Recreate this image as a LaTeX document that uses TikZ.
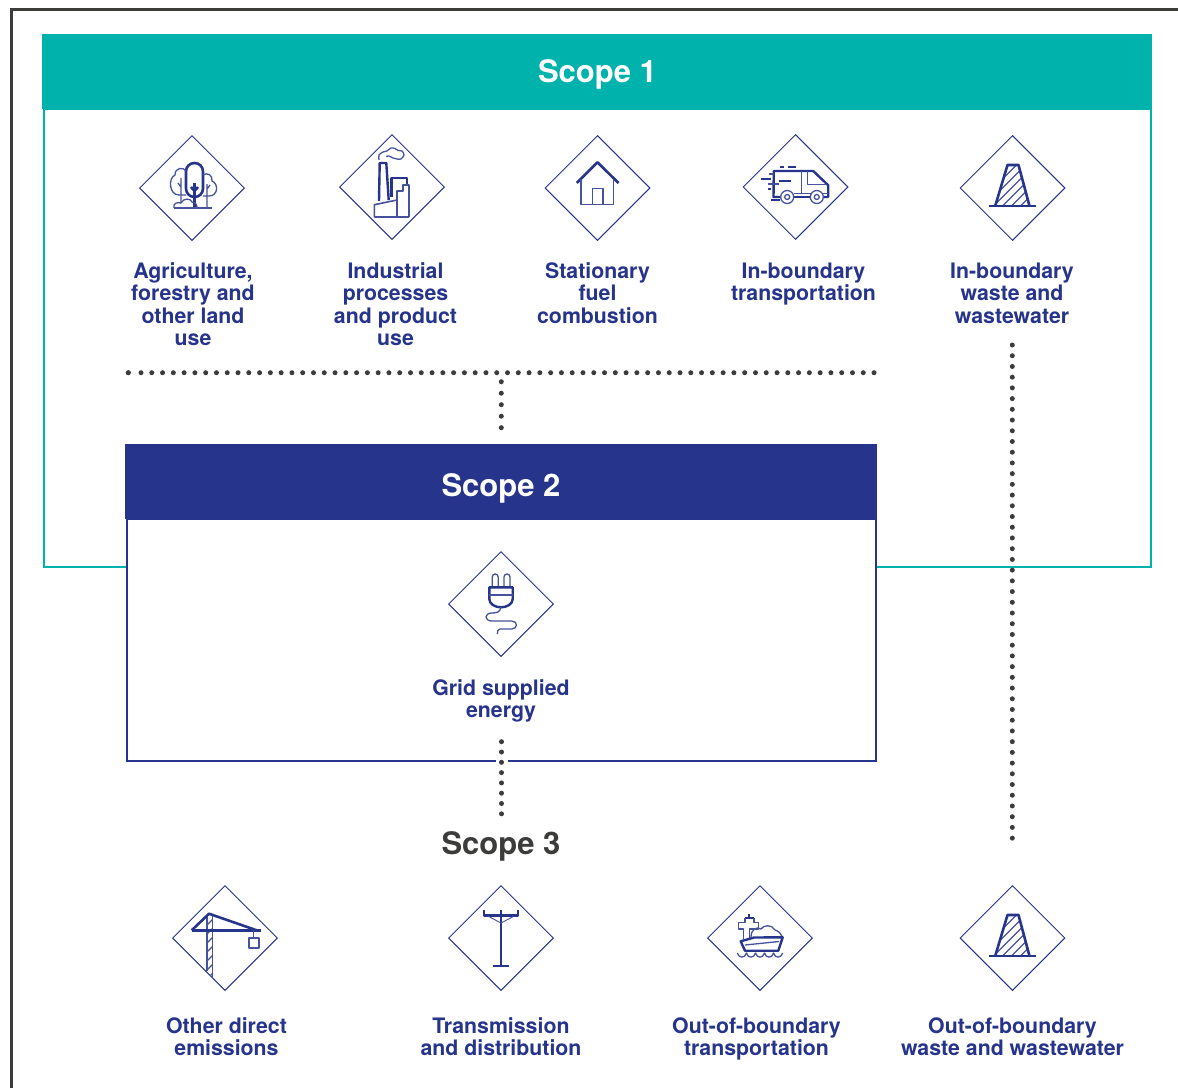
\documentclass[tikz,border=0pt]{standalone}
\usepackage{fontspec}
\setmainfont{TeX Gyre Heros}
\usetikzlibrary{shapes.geometric}
\definecolor{navy}{HTML}{27348B}
\definecolor{teal2}{HTML}{00B2AC}
\definecolor{ink}{HTML}{3C3C3B}
\tikzset{
  dia/.style={shape=diamond,draw=navy,line width=1pt,aspect=1,inner sep=0pt,minimum width=105pt,minimum height=105pt},
  lab/.style={font=\fontsize{21.3}{22.4}\selectfont\bfseries,text=navy,align=center,anchor=north,inner sep=0pt,execute at begin node=\strut},
  title/.style={font=\fontsize{31}{33}\selectfont\bfseries,inner sep=0pt,anchor=center},
  dots/.style={draw=ink,line width=5pt,line cap=round,dash pattern=on 0pt off 10.72pt},
  thk/.style={draw=navy,line width=2.4pt,line join=round},
  thn/.style={draw=navy!85,line width=1.3pt,line join=round},
  icontree/.pic={
    \draw[thk,line width=2.6pt,rounded corners=8.4pt] (-6,-25) rectangle (11,9);
    \draw[thk,line width=2.6pt] (2.5,-5)--(2.5,19) (2.5,3)--(-1,-1) (2.5,3)--(6,-1);
    \draw[thn] (-6,-17) .. controls (-8,-21) and (-17,-21) .. (-17,-13) .. controls (-24,-10) and (-23,7) .. (-13,7) -- (-6,7);
    \draw[thn] (-11,-10)--(-11,15) (-11,-1)--(-14,-5);
    \draw[thn] (11,-13) .. controls (15,-16) and (21,-13) .. (20,-7) .. controls (27,-4) and (26,8) .. (17,8) -- (11,8);
    \draw[thn] (15,-4)--(15,20) (15,1)--(18,-3);
    \draw[thn,line width=1.5pt] (-18,20)--(20,20);
    \draw[thn] (-18,20) .. controls (-19,15) and (-15,14) .. (-11,15) .. controls (-9,10) and (-1,10) .. (0,14) .. controls (3,14) and (5,16) .. (5,20);
  },
  iconfactory/.pic={
    \draw[thk] (-13,14)--(-12.3,-24)--(-5.7,-24)--(-3.3,13);
    \draw[thk] (-0.7,10)--(-0.7,-9)--(15,-9)--(15,-2);
    \draw[thn] (5,30)--(5,4)--(11,4)--(11,-2)--(17,-2)--(17,30);
    \draw[thn,line width=1.6pt] (-17.7,30)--(-17.7,17.7)--(5,13) (-17.7,30)--(17,30);
    \draw[thn] plot[smooth] coordinates {(-13,-27) (-13,-32) (-9,-35) (-5,-36) (-1,-39) (3,-38.5) (6,-36.5) (10,-36) (12,-32) (9,-28) (5,-28) (1,-29) (-3,-31) (-6,-30.5)};
  },
  iconhouse/.pic={
    \draw[thk,line width=2.6pt] (-20.7,-5)--(0,-25.7)--(21,-5);
    \draw[thn,line width=1.6pt] (-16.3,-9)--(-16.3,16.3)--(16,16.3)--(16,-9);
    \draw[thn,line width=1.6pt] (-5,16.3)--(-5,0.3)--(5.3,0.3)--(5.3,16.3);
  },
  iconvan/.pic={
    \draw[thk] (-8,10)--(-22,10)--(-21.7,-16)--(17.7,-16)--(32.7,-1.7)--(32.7,10)--(28,10);
    \draw[thk] (-2,10)--(15,10);
    \draw[thn] (-2,6.7)--(15,6.7) (27,6.7)--(32.7,6.7);
    \draw[thn,line width=1.6pt] (6,-16)--(6,6.7);
    \draw[thn] (11.7,-16)--(11.7,-2.7)--(31,-2.7);
    \draw[thn,fill=white] (-8.3,10) circle (6.5pt) (21.3,10) circle (6.5pt);
    \draw[thn] (-8.3,10) circle (2.5pt) (21.3,10) circle (2.5pt);
    \draw[thk] (-15.7,-20)--(-11.7,-20) (-7.3,-20)--(0,-20) (-34.7,-8)--(-25,-8) (-16.3,-6)--(-5,-6) (-28,2)--(-24.7,2) (-24.7,13)--(-15.7,13);
    \draw[thn] (-26.7,-13)--(-21.7,-13) (-28,-3)--(-16.7,-3);
  },
  iconcone/.pic={
    \begin{scope}
      \clip (-17.3,18)--(-5,-23)--(6,-23)--(17,18)--cycle;
      \foreach \k in {-26,-17,-8,1,10,19,28,37}{\draw[thn] (\k-20,18)--(\k+20,-22);}
    \end{scope}
    \draw[thk,line width=2.6pt] (-17.3,18)--(-5,-23)--(6,-23)--(17,18);
    \draw[thk] (-23.3,18)--(23.7,18);
  },
  iconplug/.pic={
    \draw[thn,rounded corners=2.9pt] (-8.7,-17)--(-8.7,-30)--(-2.8,-30)--(-2.8,-17);
    \draw[thn,rounded corners=2.9pt] (3,-17)--(3,-30)--(9,-30)--(9,-17);
    \draw[thk] (-11.7,-16.7)--(11.7,-16.7)--(11.7,-5) .. controls (11.7,0) and (6,3.3) .. (0,3.3) .. controls (-6,3.3) and (-11.7,0) .. (-11.7,-5) --cycle;
    \draw[thn,line width=1.6pt] (-11.7,-9)--(11.7,-9);
    \draw[thn] (0,3.3) .. controls (-1,8) and (-4,9) .. (-9,9) .. controls (-17,9) and (-17,17) .. (-9,17) -- (10.7,17) .. controls (17,17) and (17,25) .. (10.7,25) -- (-1,25) .. controls (-3,25) and (-3.7,27) .. (-3.7,30);
  },
  iconcrane/.pic={
    \begin{scope}
      \clip (-18.3,-24)--(-12.7,-24)--(-12.7,40)--(-18.3,33)--cycle;
      \foreach \k in {-15,-6,3,12,21,30,39}{\draw[thn] (-19,\k+3)--(-12,\k-4);}
    \end{scope}
    \draw[thn,line width=1.6pt] (-18.3,-22)--(-18.3,33) (-12.7,-22)--(-12.7,40);
    \draw[thk,line width=2.6pt] (-33.3,-7.7)--(-16,-24.3)--(31.7,-7.7);
    \draw[thk,line width=2.6pt] (-33.3,-7.7)--(35.7,-7.7);
    \draw[thn] (28.7,-7.7)--(28.7,0);
    \draw[thn,line width=1.6pt] (23.7,0) rectangle (33.7,10);
  },
  iconpole/.pic={
    \draw[thk,line width=2.8pt] (0,-27.7)--(0,28) (-7.7,28)--(8,28);
    \draw[thk,line width=2.4pt] (-17,-27.7)--(-17,-22.7)--(16.7,-22.7)--(16.7,-27.7);
    \draw[thn,line width=0.9pt] (-12.7,-21.7)--(0,-15)--(12.7,-21.7);
  },
  iconship/.pic={
    \draw[thk,line width=1.8pt] (-10.7,-24)--(-10.7,-19.7) (-15,-19.7)--(-6,-19.7);
    \draw[thn,line width=1.6pt] (-15,-19.7)--(-15,-15.7)--(-21.7,-15.7)--(-21.7,-9)--(-16.5,-9)--(-16.5,1) (-6,-19.7)--(-6,-15.7)--(-1.7,-15.7)--(-1.7,-9)--(-10.5,-9)--(-10.5,0);
    \draw[thn] (-9,-1) .. controls (-9,-8) and (-4,-12) .. (1,-9) .. controls (3,-13) and (12,-14) .. (15,-8) .. controls (19,-7) and (21,-4) .. (22.5,-1);
    \draw[thk] (-19.3,3.3)--(-6,-0.5)--(22.7,-0.7)--(18.3,12.7)--(-15,12.7)--cycle;
    \draw[thn] (-15,7)--(19,3.5);
    \draw[thn] (-22.7,15) .. controls (-21,20.5) and (-15,20.5) .. (-13.6,15) .. controls (-12,20.5) and (-6,20.5) .. (-4.5,15) .. controls (-3,20.5) and (3,20.5) .. (4.5,15) .. controls (6,20.5) and (12,20.5) .. (13.6,15) .. controls (15,20.5) and (21,20.5) .. (22.7,15);
  }
}
\begin{document}
\begin{tikzpicture}[x=1pt,y=-1pt]
\useasboundingbox (0,0) rectangle (1178,1088);
% outer frame
\coordinate (fa) at (11.5,1088);
\coordinate (fb) at (11.5,9.2);
\coordinate (fc) at (1178,9.2);
\draw[ink,line width=2.8pt] (fa)--(fb)--(fc);
% Scope 1
\draw[teal2,line width=2pt,fill=white] (43.5,109) rectangle (1151,566.5);
\fill[teal2] (42,34) rectangle (1152,109);
\node[title,text=white] (s1) at (597.5,74.5) {Scope 1};
% Scope 2
\draw[navy,line width=2pt,fill=white] (126.5,519) rectangle (875.5,761);
\fill[navy] (125,444) rectangle (877,519);
\fill[white] (495.5,758) rectangle (507.5,764);
\node[title,text=white] (s2) at (501,488) {Scope 2};
\node[title,text=ink] (s3) at (501,846.5) {Scope 3};
% diamonds and icons
\node[dia] (d1) at (192,188) {}; \pic at (d1) {icontree};
\node[dia] (d2) at (392,187) {}; \pic at (d2) {iconfactory};
\node[dia] (d3) at (597.5,188) {}; \pic at (d3) {iconhouse};
\node[dia] (d4) at (795.5,187) {}; \pic at (d4) {iconvan};
\node[dia] (d5) at (1012.5,188) {}; \pic at (d5) {iconcone};
\node[dia] (d6) at (501,604) {}; \pic at (d6) {iconplug};
\node[dia] (d7) at (225,938) {}; \pic at (d7) {iconcrane};
\node[dia] (d8) at (501,938) {}; \pic at (d8) {iconpole};
\node[dia] (d9) at (760,938) {}; \pic at (d9) {iconship};
\node[dia] (d10) at (1012.5,938) {}; \pic at (d10) {iconcone};
% labels
\node[lab] (l1) at (193,262.5) {Agriculture,\\forestry and\\other land\\use};
\node[lab] (l2) at (395.5,262.5) {Industrial\\processes\\and product\\use};
\node[lab] (l3) at (597.5,262.5) {Stationary\\fuel\\combustion};
\node[lab] (l4) at (803.5,262.5) {In-boundary\\transportation};
\node[lab] (l5) at (1012,262.5) {In-boundary\\waste and\\wastewater};
\node[lab] (l6) at (501,679.5) {Grid supplied\\energy};
\node[lab] (l7) at (226.5,1017.5) {Other direct\\emissions};
\node[lab] (l8) at (501,1017.5) {Transmission\\and distribution};
\node[lab] (l9) at (756.5,1017.5) {Out-of-boundary\\transportation};
\node[lab] (l10) at (1012.5,1017.5) {Out-of-boundary\\waste and wastewater};
% dotted connectors
\coordinate (a0) at (128.3,372.7);
\coordinate (a1) at (141,372.7);
\coordinate (a2) at (877.5,372.7);
\coordinate (b1) at (501.3,381.7);
\coordinate (b2) at (501.3,428);
\coordinate (c1) at (1012.3,345);
\coordinate (c2) at (1012.3,838.2);
\coordinate (e1) at (501.5,741.7);
\coordinate (e2) at (501.5,814);
\fill[ink] (a0) circle (2.6pt);
\draw[dots,dash pattern=on 0pt off 10.78pt] (a1)--(a2);
\draw[dots,dash pattern=on 0pt off 11.5pt] (b1)--(b2);
\draw[dots] (c1)--(c2);
\draw[dots,dash pattern=on 0pt off 10.3pt] (e1)--(e2);
\end{tikzpicture}
\end{document}
